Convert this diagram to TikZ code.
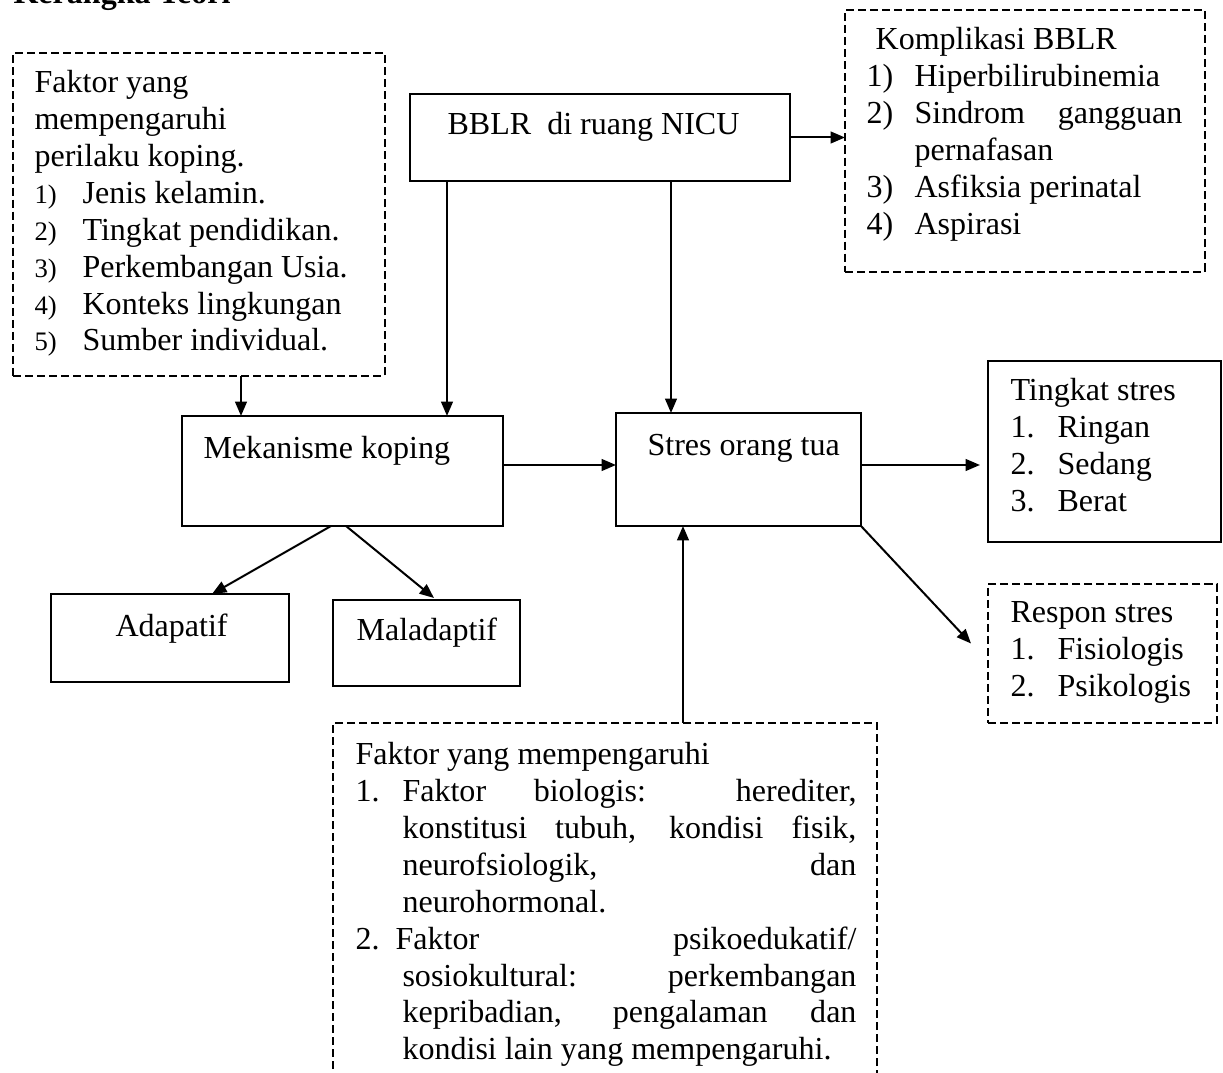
\documentclass[tikz,border=0pt]{standalone}
\usepackage{fontspec}
\setmainfont{Liberation Serif}
\usetikzlibrary{arrows.meta}

\tolerance=9999
\hbadness=10000
\newcommand\nsm[1]{{\fontsize{10}{13.8}\selectfont #1}}
\newcommand\itm[3]{\par\noindent\hangindent=#1\hangafter=1\makebox[#2][l]{#3}}

\begin{document}
\begin{tikzpicture}[
  x=0.3745pt, y=-0.3745pt,
  sz/.style 2 args={minimum width=#1*0.3745pt, minimum height=#2*0.3745pt},
  box/.style={
    draw, line width=0.9pt, inner sep=0pt, outer sep=0pt, anchor=north west
  },
  dbox/.style={
    box, line width=0.75pt, dash pattern=on 3pt off 1.5pt
  },
  txt/.style={
    inner sep=0pt, anchor=base west, font=\fontsize{12}{13.8}\selectfont
  },
  arr/.style={
    line width=0.75pt, -{Triangle[length=5.4pt, width=4.4pt]}
  }
]
\useasboundingbox (0,0) rectangle (1223,1073);

% title (cut at the top edge)
\node[txt, font=\fontsize{12}{13.8}\selectfont\bfseries] (title) at (13,4) {Kerangka Teori};

% boxes
\node[dbox, sz={372}{323}] (fpk) at (13,53) {};
\node[box, sz={380}{87}] (bblr) at (410,94) {};
\node[dbox, sz={360}{262}] (komp) at (845,10) {};
\node[box, sz={321}{110}] (mek) at (182,416) {};
\node[box, sz={245}{113}] (stres) at (616,413) {};
\node[box, sz={233}{181}] (tingkat) at (988,361) {};
\node[dbox, sz={229}{139}] (respon) at (988,584) {};
\node[box, sz={238}{88}] (adap) at (51,594) {};
\node[box, sz={187}{86}] (malad) at (333,600) {};
\node[dbox, sz={544}{400}] (fstres) at (333,723) {};

% texts
\node[txt] (fpkt) at (34,93) {\begin{minipage}[t]{140pt}
  Faktor yang\\ mempengaruhi\\ perilaku koping.\\
  \makebox[18pt][l]{\nsm{1)}}Jenis kelamin.\\
  \makebox[18pt][l]{\nsm{2)}}Tingkat pendidikan.\\
  \makebox[18pt][l]{\nsm{3)}}Perkembangan Usia.\\
  \makebox[18pt][l]{\nsm{4)}}Konteks lingkungan\\
  \makebox[18pt][l]{\nsm{5)}}Sumber individual.
\end{minipage}};
\node[txt] (bblrt) at (447,135) {BBLR\ \ di ruang NICU};
\node[txt] (kompt) at (866,50) {\begin{minipage}[t]{118.3pt}
  \hspace*{3.4pt}Komplikasi BBLR
  \itm{18pt}{18pt}{1)}Hiperbilirubinemia
  \itm{18pt}{18pt}{2)}Sindrom gangguan\linebreak pernafasan
  \itm{18pt}{18pt}{3)}Asfiksia perinatal
  \itm{18pt}{18pt}{4)}Aspirasi
\end{minipage}};
\node[txt] (mekt) at (203,459) {Mekanisme koping};
\node[txt] (strest) at (647,456) {Stres orang tua};
\node[txt] (tingkatt) at (1010,401) {\begin{minipage}[t]{80pt}
  Tingkat stres\\
  \makebox[17.6pt][l]{1.}Ringan\\
  \makebox[17.6pt][l]{2.}Sedang\\
  \makebox[17.6pt][l]{3.}Berat
\end{minipage}};
\node[txt] (respont) at (1010,623) {\begin{minipage}[t]{80pt}
  Respon stres\\
  \makebox[17.6pt][l]{1.}Fisiologis\\
  \makebox[17.6pt][l]{2.}Psikologis
\end{minipage}};
\node[txt] (adapt) at (115,637) {Adapatif};
\node[txt] (maladt) at (356,641) {Maladaptif};
\node[txt] (fstrest) at (355,765) {\begin{minipage}[t]{187.6pt}
  Faktor yang mempengaruhi
  \itm{17.6pt}{17.6pt}{1.}Faktor biologis: herediter,\linebreak
    konstitusi tubuh, kondisi fisik,\linebreak
    neurofsiologik, dan\linebreak neurohormonal.
  \itm{17.6pt}{15pt}{2.}Faktor psikoedukatif/\linebreak
    sosiokultural: perkembangan\linebreak
    kepribadian, pengalaman dan\linebreak
    kondisi lain yang mempengaruhi.
\end{minipage}};

% arrows into the coping box and the stress box
\draw[arr] (fpk.south west) ++(228,0) coordinate (a1) -- (a1 |- mek.north);
\draw[arr] (bblr.south west) ++(37,0) coordinate (a2) -- (a2 |- mek.north);
\draw[arr] (bblr.south west) ++(261,0) coordinate (a3) -- (a3 |- stres.north);
\draw[arr] (bblr.east) -- (bblr.east -| komp.west);
\draw[arr] (mek.north east) ++(0,49) coordinate (a4) -- (a4 -| stres.west);
\draw[arr] (fstres.north west) ++(350,0) coordinate (a6) -- (a6 |- stres.south);

% arrows out of the stress box
\draw[arr, shorten >=3pt] (stres.north east) ++(0,52) coordinate (a5) -- (a5 -| tingkat.west);
\draw[arr] (stres.south east) -- ([shift={(-17,-10)}]respon.west);

% coping outcomes
\draw[arr] (mek.south west) ++(149,0) -- ([shift={(161,0)}]adap.north west);
\draw[arr] (mek.south west) ++(164,0) -- ([shift={(101,-2)}]malad.north west);

\end{tikzpicture}
\end{document}
